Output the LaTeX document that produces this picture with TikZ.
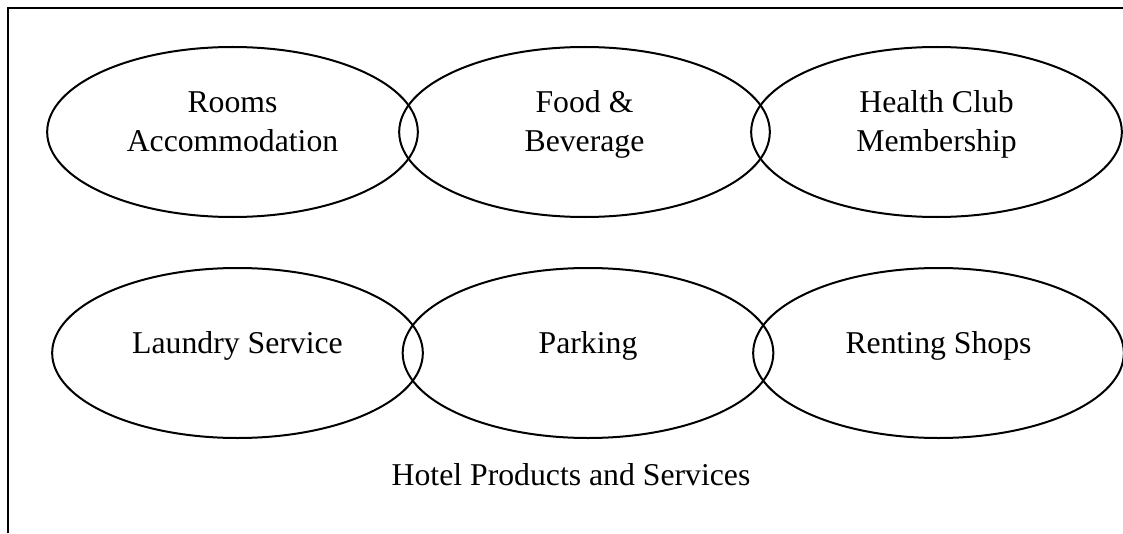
\documentclass[tikz,border=0pt]{standalone}
\usepackage{fontspec}
\setmainfont{Liberation Serif}
\usetikzlibrary{shapes.geometric}

\tikzset{
    bubble/.style={draw, ellipse, line width=1.5pt, inner sep=0pt,
        minimum width=278pt, minimum height=127.5pt, align=center,
        font=\fontsize{23.8}{29.3}\selectfont},
    oneline/.style={text height=12pt, text depth=12pt},
    twoline/.style={text height=41.3pt, text depth=12pt}
}

\begin{document}
\begin{tikzpicture}[x=0.75pt, y=0.75pt]
        \useasboundingbox (0,0) rectangle (1123,533);
        % Cornice (solo lato sinistro e superiore)
        \draw[line width=1.5pt] (8,0) -- (8,525) -- (1123,525);
        % Prima riga
        \node[bubble, twoline] (rooms) at (232.5,401) {Rooms\\Accommodation};
        \node[bubble, twoline] (food) at (584.5,401) {Food \&\\Beverage};
        \node[bubble, twoline] (health) at (936.5,401) {Health Club\\Membership};
        % Seconda riga
        \node[bubble, oneline] (laundry) at (237.5,180) {Laundry Service};
        \node[bubble, oneline] (parking) at (588,180) {Parking};
        \node[bubble, oneline] (shops) at (938.5,180) {Renting Shops};
        % Didascalia in basso
        \node[anchor=base, font=\fontsize{23.8}{29.3}\selectfont] (caption) at (571,48)
            {Hotel Products and Services};
\end{tikzpicture}
\end{document}
